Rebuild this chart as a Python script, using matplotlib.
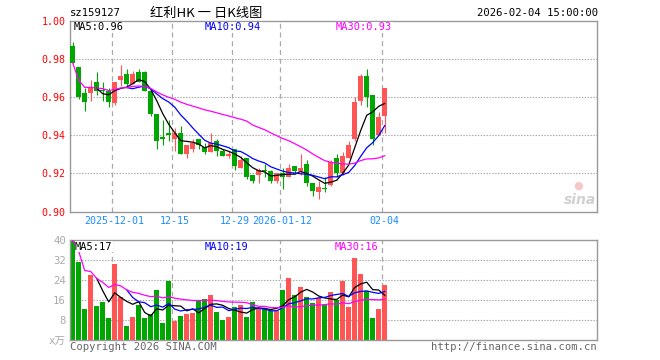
import numpy as np
import pandas as pd
import matplotlib
matplotlib.use("Agg")
import matplotlib.pyplot as plt

# ---------------- data ----------------
opens = [0.987, 0.976, 0.962, 0.962, 0.968, 0.964, 0.963, 0.957, 0.969, 0.972,
         0.967, 0.973, 0.973, 0.963, 0.951, 0.939, 0.941, 0.938, 0.941, 0.930,
         0.933, 0.938, 0.934, 0.931, 0.937, 0.932, 0.929, 0.933, 0.923, 0.928,
         0.919, 0.919, 0.922, 0.921, 0.916, 0.920, 0.918, 0.924, 0.921, 0.925,
         0.915, 0.910, 0.9125, 0.914, 0.928, 0.920, 0.928, 0.938, 0.958, 0.971,
         0.961, 0.940, 0.950]
highs = [0.989, 0.976, 0.965, 0.969, 0.973, 0.968, 0.965, 0.968, 0.977, 0.975,
         0.974, 0.975, 0.974, 0.963, 0.951, 0.948, 0.948, 0.944, 0.945, 0.935,
         0.938, 0.938, 0.936, 0.941, 0.938, 0.933, 0.932, 0.933, 0.929, 0.928,
         0.919, 0.923, 0.925, 0.922, 0.920, 0.923, 0.925, 0.924, 0.930, 0.927,
         0.915, 0.916, 0.918, 0.927, 0.930, 0.931, 0.937, 0.960, 0.972, 0.975,
         0.961, 0.952, 0.965]
lows = [0.978, 0.959, 0.953, 0.958, 0.961, 0.958, 0.955, 0.956, 0.966, 0.966,
        0.967, 0.968, 0.963, 0.950, 0.933, 0.935, 0.937, 0.932, 0.930, 0.928,
        0.931, 0.933, 0.930, 0.931, 0.929, 0.929, 0.928, 0.922, 0.923, 0.917,
        0.915, 0.915, 0.918, 0.915, 0.915, 0.912, 0.918, 0.9195, 0.919, 0.9135,
        0.908, 0.9065, 0.910, 0.9135, 0.918, 0.919, 0.928, 0.937, 0.956, 0.955,
        0.935, 0.940, 0.941]
closes = [0.978, 0.960, 0.9575, 0.965, 0.9635, 0.963, 0.9575, 0.968, 0.971, 0.967,
          0.972, 0.968, 0.963, 0.951, 0.937, 0.938, 0.940, 0.941, 0.930, 0.935,
          0.936, 0.935, 0.931, 0.936, 0.932, 0.929, 0.930, 0.924, 0.927, 0.918,
          0.916, 0.922, 0.921, 0.916, 0.920, 0.918, 0.923, 0.921, 0.923, 0.915,
          0.911, 0.913, 0.912, 0.926, 0.920, 0.929, 0.935, 0.9575, 0.971, 0.960,
          0.938, 0.9495, 0.965]
volumes = [39.8, 31.2, 12.4, 26.2, 13.6, 15.2, 8.8, 30.5, 17.2, 5.6,
           9.3, 14.1, 8.8, 10.3, 20.0, 6.8, 23.7, 7.7, 9.6, 10.5,
           10.9, 15.6, 16.4, 18.0, 11.3, 8.1, 9.2, 13.2, 14.1, 9.2,
           15.2, 12.4, 12.4, 11.7, 11.7, 20.0, 24.8, 18.0, 21.2, 17.2,
           14.8, 16.8, 14.1, 19.2, 16.1, 23.7, 13.2, 32.8, 26.4, 19.5,
           8.8, 12.5, 22.0]

tick_idx = [7, 17, 27, 35, 52]
tick_labels = ["2025-12-01", "12-15", "12-29", "2026-01-12", "02-04"]
price_ticks = [0.90, 0.92, 0.94, 0.96, 0.98, 1.00]
vol_ticks = [0, 8, 16, 24, 32, 40]
vol_tick_labels = ["x万", "8", "16", "24", "32", "40"]

code = "sz159127"
title = "红利HK 一 日K线图"
stamp = "2026-02-04 15:00:00"
price_ma_labels = ["MA5:0.96", "MA10:0.94", "MA30:0.93"]
vol_ma_labels = ["MA5:17", "MA10:19", "MA30:16"]

# ---------------- style ----------------
RED = "#ff5555"
GREEN = "#00a600"
GRID = "#aaaaaa"
BORDER = "#999999"
MONO = ["DejaVu Sans Mono"]
FS = 7.2
W, H = 660, 360

plt.rcParams["font.family"] = ["DejaVu Sans Mono", "Noto Sans CJK SC", "DejaVu Sans"]

o = np.array(opens); h = np.array(highs); l = np.array(lows); c = np.array(closes)
v = np.array(volumes)
n = len(c)
x = np.arange(n)
up = c >= o
cols = np.where(up, RED, GREEN)

cs = pd.Series(c)
ma5 = cs.rolling(5).mean()
ma10 = cs.rolling(10).mean()
ma30 = cs.rolling(30, min_periods=1).mean()
vs = pd.Series(v)
vma5 = vs.rolling(5).mean()
vma10 = vs.rolling(10).mean()
vma30 = vs.rolling(30, min_periods=1).mean()

fig = plt.figure(figsize=(W / 100, H / 100), dpi=100)
fig.patch.set_facecolor("white")


def rect(lft, top, rgt, bot):
    return [lft / W, 1 - bot / H, (rgt - lft) / W, (bot - top) / H]


axp = fig.add_axes(rect(70, 21, 597, 211.5))
axv = fig.add_axes(rect(70, 240, 597, 340))

xlim = ((70 - 72.7) / 6, (597 - 72.7) / 6)

for ax in (axp, axv):
    ax.set_xlim(*xlim)
    for s in ax.spines.values():
        s.set_color(BORDER)
        s.set_linewidth(1.0)
    for t in tick_idx:
        ax.axvline(t - 0.37, color=GRID, lw=0.9, ls=(0, (4, 3)), zorder=0)
    ax.tick_params(length=0)

# price panel
axp.set_ylim(0.90, 1.00)
for p in price_ticks[1:-1]:
    axp.axhline(p, color=GRID, lw=0.8, ls=(0, (1.3, 1.3)), zorder=0)
axp.vlines(x, l, h, colors=cols, lw=0.8, zorder=2)
body_h = np.maximum(np.abs(c - o), 0.0004)
axp.bar(x, body_h, bottom=np.minimum(o, c), width=0.85, color=cols, lw=0, zorder=3)
axp.plot(x, ma5, color="black", lw=0.9, zorder=4)
axp.plot(x, ma10, color="#0000ff", lw=0.9, zorder=4)
axp.plot(x, ma30, color="#ff00ff", lw=0.9, zorder=4)
axp.set_yticks(price_ticks)
axp.set_yticklabels([f"{p:.2f}" for p in price_ticks], color="#ff0000",
                    fontsize=FS, family=MONO)
axp.tick_params(axis="y", pad=3)
axp.set_xticks(tick_idx)
axp.set_xticklabels(tick_labels, color="#1a8cff", fontsize=FS, family=MONO)
axp.tick_params(axis="x", pad=3)

# volume panel
axv.set_ylim(0, 40)
for t in vol_ticks[1:-1]:
    axv.axhline(t, color=GRID, lw=0.8, ls=(0, (1.3, 1.3)), zorder=0)
axv.bar(x, v, width=0.85, color=cols, lw=0, zorder=2)
axv.plot(x, vma5, color="black", lw=0.9, zorder=4)
axv.plot(x, vma10, color="#0000ff", lw=0.9, zorder=4)
axv.plot(x, vma30, color="#ff00ff", lw=0.9, zorder=4)
axv.set_yticks(vol_ticks)
axv.set_yticklabels(vol_tick_labels, color="#aaaaaa", fontsize=FS + 0.5,
                    family=["DejaVu Sans Mono", "Noto Sans CJK SC"])
axv.tick_params(axis="y", pad=3)
axv.set_xticks([])


def ftext(px, py, s, **kw):
    fig.text(px / W, 1 - py / H, s, **kw)


# header
ftext(70, 13, code, fontsize=FS + 0.4, family=MONO, va="center", ha="left")
ftext(150, 13, title, fontsize=9.5, family=["Noto Sans CJK SC", "DejaVu Sans"],
      va="center", ha="left")
ftext(598, 13, stamp, fontsize=FS + 0.4, family=MONO, va="center", ha="right")

# MA labels
ma_cols = ["black", "#0000ff", "#ff00ff"]
for s, px, col in zip(price_ma_labels, [74, 205, 336], ma_cols):
    ftext(px, 27.5, s, fontsize=FS + 0.3, family=MONO, color=col, va="center", ha="left",
          bbox=dict(facecolor="white", edgecolor="none", pad=0.3))
for s, px, col in zip(vol_ma_labels, [75, 205, 335], ma_cols):
    ftext(px, 246.5, s, fontsize=FS + 0.3, family=MONO, color=col, va="center", ha="left",
          bbox=dict(facecolor="white", edgecolor="none", pad=0.3))

# watermark
ftext(578, 186, "●", fontsize=8, family=["DejaVu Sans"], color="#f6c8c8",
      va="center", ha="center")
ftext(580, 200, "sina", fontsize=10, family=["DejaVu Sans"], style="italic",
      weight="bold", color="#d0d0d0", va="center", ha="center")

# footer
ftext(70, 347, "Copyright 2026 SINA.COM", fontsize=FS + 0.4, family=MONO,
      color="#666666", va="center", ha="left")
ftext(597, 347, "http://finance.sina.com.cn", fontsize=FS + 0.4, family=MONO,
      color="#666666", va="center", ha="right")

fig.savefig("out.png", dpi=100, facecolor="white")
